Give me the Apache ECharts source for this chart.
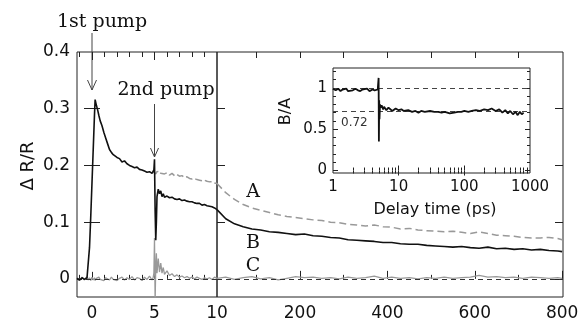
<!DOCTYPE html>
<html><head><meta charset="utf-8">
<script src="https://cdn.jsdelivr.net/npm/echarts@6/dist/echarts.min.js"></script>
<style>html,body{margin:0;padding:0;background:#fff}#c{width:586px;height:323px}</style>
</head><body><div id="c"></div>
<script>
// ---------- data ----------
const tLeft = [-1.2,-1.0,-0.8,-0.6,-0.4,-0.3,-0.2,-0.1,0,0.1,
  0.2,0.25,0.35,0.45,0.55,0.65,0.8,0.95,1.1,1.25,
  1.4,1.55,1.7,1.85,2.0,2.2,2.4,2.6,2.8,3.0,
  3.2,3.4,3.6,3.8,4.0,4.2,4.4,4.6,4.8,4.9,
  4.95,5.0,5.05,5.1,5.15,5.2,5.3,5.4,5.5,5.6,
  5.7,5.8,6.0,6.2,6.4,6.6,6.8,7.0,7.2,7.4,
  7.6,7.8,8.0,8.2,8.4,8.6,8.8,9.0,9.2,9.4,
  9.6,9.8,10.0];
const bLeft = [0.001,-0.002,0.002,-0.001,0.002,0.000,0.055,0.11,0.17,0.23,
  0.29,0.316,0.306,0.298,0.288,0.279,0.27,0.258,0.248,0.238,
  0.228,0.223,0.219,0.221,0.214,0.212,0.206,0.208,0.203,0.200,
  0.198,0.196,0.197,0.193,0.192,0.190,0.188,0.189,0.186,0.188,
  0.192,0.211,0.12,0.068,0.10,0.145,0.158,0.150,0.155,0.145,
  0.150,0.144,0.146,0.143,0.144,0.141,0.140,0.141,0.138,0.139,
  0.137,0.136,0.136,0.134,0.133,0.133,0.130,0.131,0.129,0.128,
  0.127,0.125,0.122];
const cLeft = [0.002,-0.003,0.003,-0.002,0.004,-0.002,0.002,-0.003,0.003,-0.002,
  0.002,-0.003,0.001,-0.002,0.003,-0.001,0.002,-0.003,0.002,0.000,
  -0.002,0.003,-0.001,0.002,-0.003,0.001,0.003,-0.002,0.002,-0.001,
  0.004,-0.002,0.002,0.001,-0.003,0.003,-0.001,0.005,-0.002,0.003,
  0.010,0.072,-0.04,0.02,0.045,0.01,0.036,0.012,0.028,0.01,
  0.02,0.008,0.014,0.006,0.009,0.004,0.007,0.003,0.005,0.002,
  0.004,0.001,0.003,0.000,0.003,0.001,-0.001,0.002,0.000,0.002,
  -0.001,0.003,0.001];
const tLeftA = [4.9,5.0,5.1,5.2,5.3,5.4,5.5,5.6,5.8,6.0,
  6.2,6.4,6.6,6.8,7.0,7.2,7.4,7.6,7.8,8.0,
  8.2,8.4,8.6,8.8,9.0,9.2,9.4,9.6,9.8,10.0];
const aLeft = [0.188,0.19,0.185,0.189,0.187,0.19,0.186,0.188,0.185,0.187,
  0.183,0.186,0.182,0.184,0.181,0.182,0.179,0.180,0.177,0.176,
  0.177,0.175,0.174,0.173,0.174,0.172,0.171,0.171,0.169,0.168];

const tRight = [10,30,50,70,90,110,130,150,170,190,
  210,230,250,270,290,310,330,350,370,390,
  410,430,450,470,490,510,530,550,570,590,
  610,630,650,670,690,710,730,750,770,790,800];
const aRight = [0.168,0.152,0.140,0.131,0.125,0.121,0.117,0.113,0.110,0.108,
  0.106,0.104,0.103,0.100,0.099,0.096,0.095,0.093,0.095,0.092,
  0.091,0.088,0.089,0.086,0.085,0.084,0.083,0.084,0.082,0.080,
  0.083,0.080,0.077,0.076,0.075,0.073,0.072,0.072,0.073,0.071,0.069];
const bRight = [0.122,0.106,0.097,0.092,0.088,0.086,0.083,0.082,0.080,0.078,
  0.079,0.076,0.075,0.073,0.072,0.069,0.068,0.067,0.066,0.064,
  0.064,0.062,0.061,0.061,0.059,0.058,0.057,0.056,0.057,0.055,
  0.054,0.056,0.053,0.054,0.052,0.053,0.051,0.052,0.050,0.049,0.048];
const cRight = [0.001,0.003,-0.001,0.002,0.004,0.000,0.002,-0.002,0.001,0.004,
  0.002,0.003,0.001,0.002,0.000,0.003,0.001,0.002,0.005,0.001,
  0.003,0.001,0.002,0.000,0.002,0.001,0.003,0.001,0.002,0.003,
  0.006,0.003,0.004,0.002,0.003,0.001,0.003,0.002,0.001,0.002,0.001];

const tInset = [1,1.1,1.2,1.3,1.4,1.5,1.6,1.7,1.8,2.0,
  2.2,2.4,2.6,2.8,3.0,3.3,3.6,4.0,4.3,4.6,
  4.8,4.95,5.0,5.05,5.1,5.2,5.3,5.5,5.8,6.0,
  6.5,7.0,7.5,8.0,9.0,10,11,12,14,16,
  18,20,22,25,30,35,40,45,50,55,
  60,70,80,90,100,115,130,150,170,200,
  230,260,300,340,380,420,460,500,550,600,
  650,700,750,800];
const ratioBA = [0.99,0.97,0.99,0.96,0.98,0.97,0.99,0.96,0.98,0.97,
  0.99,0.97,0.96,0.98,0.97,0.99,0.96,0.98,0.97,0.99,
  0.98,1.12,0.35,0.85,0.62,0.80,0.76,0.79,0.74,0.77,
  0.73,0.76,0.74,0.72,0.75,0.73,0.74,0.72,0.73,0.71,
  0.72,0.70,0.72,0.71,0.72,0.71,0.71,0.70,0.71,0.70,
  0.69,0.70,0.71,0.71,0.72,0.71,0.72,0.73,0.72,0.74,
  0.73,0.75,0.72,0.74,0.70,0.73,0.69,0.72,0.68,0.71,
  0.67,0.71,0.68,0.70];

// tick labels / tick positions
const leftXLabels = [0, 5, 10];
const leftXMajor = [0, 5];
const leftXMinor = [-1, 1, 2, 3, 4, 6, 7, 8, 9];
const rightXLabels = [200, 400, 600, 800];
const rightXMinor = [100, 300, 500, 700];
const rightXTop = [100, 200, 300, 400, 500, 600, 700];
const mainYLabels = [0, 0.1, 0.2, 0.3, 0.4];
const mainYTicks = [0, 0.1, 0.2, 0.3];
const insetXLabels = [1, 10, 100, 1000];
const insetXMajor = [10, 100];
const insetXMinor = [2,3,4,5,6,7,8,9,20,30,40,50,60,70,80,90,200,300,400,500,600,700,800,900];
const insetYLabels = [0, 0.5, 1];
const insetYMinor = [0.1,0.2,0.3,0.4,0.6,0.7,0.8,0.9,1.1,1.2];
const ratioRefs = [1, 0.72];
const pumpTimes = [0, 5];

// ---------- chart ----------
const INK = '#222';
const SANS = 'DejaVu Sans';
const SERIF = 'DejaVu Serif';
const pairs = (xs, ys) => xs.map((x, i) => [x, ys[i]]);
const plain = v => String(+v.toFixed(6));

function ax(gridIndex, position, min, max, ticks, len, labels, extra) {
  extra = extra || {};
  const o = {
    gridIndex, position, type: extra.type || 'value', min, max,
    axisLine: {show: false}, splitLine: {show: false},
    axisTick: {show: ticks.length > 0, inside: true, length: len, customValues: ticks,
      lineStyle: {color: INK, width: 1}},
    axisLabel: labels ? {show: true, customValues: labels, fontFamily: SANS,
      fontSize: extra.fs || 17, color: '#111', margin: extra.margin || 7,
      formatter: plain} : {show: false}
  };
  if (o.type === 'log') o.logBase = 10;
  return o;
}

const YMIN = -0.032, YMAX = 0.4;
const option = {
  backgroundColor: '#fff',
  animation: false,
  grid: [
    {left: 77, width: 140, top: 52, bottom: 26, show: true, borderColor: INK, borderWidth: 1, backgroundColor: 'transparent'},
    {left: 217, right: 23, top: 52, bottom: 26, show: true, borderColor: INK, borderWidth: 1, backgroundColor: 'transparent'},
    {left: 333, width: 197, top: 68, height: 105, show: true, borderColor: INK, borderWidth: 1, backgroundColor: '#fff'}
  ],
  xAxis: [
    ax(0, 'bottom', -1.2, 10, leftXMajor, 7, leftXLabels, {margin: 8}),
    ax(0, 'bottom', -1.2, 10, leftXMinor, 4),
    ax(0, 'top', -1.2, 10, leftXMajor, 8),
    ax(0, 'top', -1.2, 10, leftXMinor, 5),
    ax(1, 'bottom', 10, 802, rightXLabels, 8, rightXLabels, {margin: 8}),
    ax(1, 'bottom', 10, 802, rightXMinor, 4),
    ax(1, 'top', 10, 802, rightXTop, 6),
    ax(2, 'bottom', 1, 1000, insetXMajor, 5, insetXLabels, {type: 'log', fs: 15, margin: 7}),
    ax(2, 'bottom', 1, 1000, insetXMinor, 3, null, {type: 'log'}),
    ax(2, 'top', 1, 1000, insetXMajor, 5, null, {type: 'log'}),
    ax(2, 'top', 1, 1000, insetXMinor, 3, null, {type: 'log'})
  ],
  yAxis: [
    ax(0, 'left', YMIN, YMAX, mainYTicks, 8, mainYLabels, {margin: 7}),
    ax(0, 'right', YMIN, YMAX, mainYTicks.slice(1), 8),
    ax(1, 'left', YMIN, YMAX, mainYTicks.slice(1), 8),
    ax(1, 'right', YMIN, YMAX, mainYTicks, 8),
    ax(2, 'left', -0.03, 1.24, insetYLabels, 5, insetYLabels, {fs: 15, margin: 6}),
    ax(2, 'left', -0.03, 1.24, insetYMinor, 3),
    ax(2, 'right', -0.03, 1.24, insetYLabels, 5),
    ax(2, 'right', -0.03, 1.24, insetYMinor, 3)
  ],
  series: [
    // left segment
    {type: 'line', xAxisIndex: 0, yAxisIndex: 0, data: pairs(tLeftA, aLeft), symbol: 'none', z: 3,
      lineStyle: {color: '#999', width: 1.5, type: [7, 3]}},
    {type: 'line', xAxisIndex: 0, yAxisIndex: 0, data: pairs(tLeft, cLeft), symbol: 'none', z: 4,
      lineStyle: {color: '#999', width: 1.3},
      markLine: {silent: true, symbol: ['none', 'none'], label: {show: false},
        lineStyle: {type: [5, 4], color: '#333', width: 1}, data: [{yAxis: 0}]}},
    {type: 'line', xAxisIndex: 0, yAxisIndex: 0, data: pairs(tLeft, bLeft), symbol: 'none', z: 5,
      lineStyle: {color: '#111', width: 1.6}},
    // right segment
    {type: 'line', xAxisIndex: 4, yAxisIndex: 2, data: pairs(tRight, aRight), symbol: 'none', z: 3,
      lineStyle: {color: '#999', width: 1.5, type: [7, 4]}},
    {type: 'line', xAxisIndex: 4, yAxisIndex: 2, data: pairs(tRight, cRight), symbol: 'none', z: 4,
      lineStyle: {color: '#999', width: 1.3},
      markLine: {silent: true, symbol: ['none', 'none'], label: {show: false},
        lineStyle: {type: [5, 4], color: '#333', width: 1}, data: [{yAxis: 0}]}},
    {type: 'line', xAxisIndex: 4, yAxisIndex: 2, data: pairs(tRight, bRight), symbol: 'none', z: 5,
      lineStyle: {color: '#111', width: 1.6}},
    // inset
    {type: 'line', xAxisIndex: 7, yAxisIndex: 4, data: pairs(tInset, ratioBA), symbol: 'none', z: 6,
      lineStyle: {color: '#111', width: 1.8},
      markLine: {silent: true, symbol: ['none', 'none'], label: {show: false}, z: 5,
        lineStyle: {type: [5, 4], color: '#444', width: 1},
        data: ratioRefs.map(v => ({yAxis: v}))}}
  ]
};
const chart = echarts.init(document.getElementById('c'));
chart.setOption(option);

const px1 = chart.convertToPixel({xAxisIndex: 0}, pumpTimes[0]);
const px2 = chart.convertToPixel({xAxisIndex: 0}, pumpTimes[1]);
const txt = (text, x, y, font, size, extra) => Object.assign({
  type: 'text', x, y, silent: true,
  style: {text, fontFamily: font, fontSize: size, fill: '#111', align: 'center', verticalAlign: 'middle'}
}, extra || {});
const stroke = {stroke: '#444', lineWidth: 1, fill: 'none'};
chart.setOption({graphic: [
  txt('1st pump', 102, 22, SERIF, 19),
  txt('2nd pump', 166, 90, SERIF, 19),
  txt('A', 253, 192, SERIF, 19),
  txt('B', 253, 243, SERIF, 19),
  txt('C', 253, 266, SERIF, 19),
  txt('\u0394 R/R', 28.5, 166, SANS, 18, {rotation: Math.PI / 2}),
  txt('B/A', 285.5, 111.5, SANS, 16, {rotation: Math.PI / 2}),
  txt('Delay time (ps)', 435, 210, SANS, 16),
  {type: 'text', x: 341, y: 123, silent: true, z: 10,
    style: {text: '0.72', fontFamily: SANS, fontSize: 12, fill: '#333', align: 'left', verticalAlign: 'middle'}},
  {type: 'line', silent: true, shape: {x1: px1, y1: 33, x2: px1, y2: 90}, style: stroke},
  {type: 'polyline', silent: true, shape: {points: [[px1 - 4.5, 80], [px1, 90], [px1 + 4.5, 80]]}, style: stroke},
  {type: 'line', silent: true, shape: {x1: px2, y1: 104, x2: px2, y2: 157}, style: stroke},
  {type: 'polyline', silent: true, shape: {points: [[px2 - 4, 148], [px2, 157], [px2 + 4, 148]]}, style: stroke}
]});
</script>
</body></html>
